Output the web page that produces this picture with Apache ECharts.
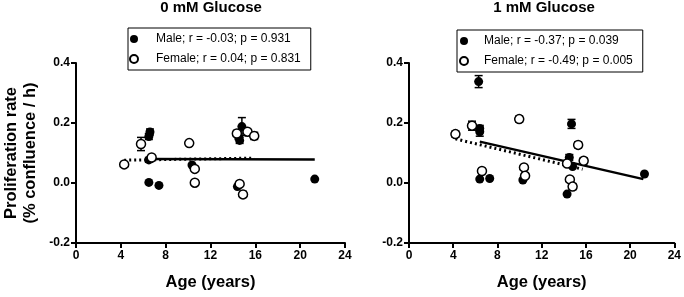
<!DOCTYPE html>
<html>
<head>
<meta charset="utf-8">
<script src="https://cdn.jsdelivr.net/npm/echarts@6/dist/echarts.min.js"></script>
<style>
  html, body { margin: 0; padding: 0; background: #fff; }
  #main { width: 684px; height: 297px; }
</style>
</head>
<body>
<div id="main"></div>
<script>
// 数据: [年龄, 增殖率, 误差]
const male0 = [
  [6.6, 0.17, 0.01], [6.5, 0.155, 0.01], [6.5, 0.077, 0.008], [6.5, 0.002, 0],
  [7.4, -0.008, 0], [10.35, 0.06, 0], [14.8, 0.188, 0.03], [14.5, 0.155, 0.01],
  [14.6, 0.142, 0.01], [14.4, -0.012, 0], [21.3, 0.013, 0]
]
const female0 = [
  [4.3, 0.062, 0], [5.8, 0.13, 0.022], [6.75, 0.085, 0], [10.1, 0.133, 0],
  [10.6, 0.047, 0], [10.6, 0.001, 0], [14.35, 0.165, 0.01], [15.3, 0.171, 0],
  [15.9, 0.157, 0.012], [14.6, -0.003, 0], [14.9, -0.038, 0.01]
]
const male1 = [
  [6.3, 0.338, 0.02], [6.4, 0.182, 0.01], [6.4, 0.171, 0.015], [6.4, 0.013, 0],
  [7.3, 0.015, 0], [10.3, 0.01, 0], [14.7, 0.197, 0.015], [14.5, 0.085, 0.01],
  [14.8, 0.055, 0], [14.3, -0.037, 0], [21.3, 0.03, 0]
]
const female1 = [
  [4.2, 0.163, 0.01], [5.7, 0.191, 0.015], [6.6, 0.04, 0], [9.97, 0.213, 0.01],
  [10.4, 0.052, 0], [10.5, 0.024, 0], [15.3, 0.127, 0.01], [15.8, 0.074, 0.01],
  [14.3, 0.065, 0], [14.55, 0.012, 0], [14.8, -0.012, 0.01]
]
// 回归线
const maleFit0 = [[6.5, 0.08], [21.3, 0.078]]
const femaleFit0 = [[4.3, 0.076], [15.9, 0.083]]
const maleFit1 = [[6.4, 0.138], [21.2, 0.013]]
const femaleFit1 = [[4.2, 0.147], [15.7, 0.046]]

const titles = ['0 mM Glucose', '1 mM Glucose']
const maleNames = ['Male; r = -0.03; p = 0.931', 'Male; r = -0.37; p = 0.039']
const femaleNames = ['Female; r = 0.04; p = 0.831', 'Female; r = -0.49; p = 0.005']
const xTicks = [0, 24, 4]     // min, max, interval
const yTicks = [-0.2, 0.4, 0.2]

const FONT = '"Liberation Sans", Arial, sans-serif'

const chart = echarts.init(document.getElementById('main'))

function xAxis(i) {
  return {
    gridIndex: i, type: 'value', min: xTicks[0], max: xTicks[1], interval: xTicks[2],
    name: 'Age (years)', nameLocation: 'middle', nameGap: 31,
    nameTextStyle: { color: '#000', fontFamily: FONT, fontWeight: 'bold', fontSize: 16.5 },
    axisLine: { onZero: false, lineStyle: { color: '#000', width: 2 } },
    axisTick: { length: 5, lineStyle: { color: '#000', width: 2 } },
    axisLabel: { color: '#000', fontFamily: FONT, fontWeight: 'bold', fontSize: 12, margin: 7 },
    splitLine: { show: false }
  }
}
function yAxis(i) {
  return {
    gridIndex: i, type: 'value', min: yTicks[0], max: yTicks[1], interval: yTicks[2],
    name: i === 0 ? 'Proliferation rate\n(% confluence / h)' : '',
    nameLocation: 'middle', nameGap: 36,
    nameTextStyle: { color: '#000', fontFamily: FONT, fontWeight: 'bold', fontSize: 16.5, lineHeight: 19 },
    axisLine: { onZero: false, lineStyle: { color: '#000', width: 2 } },
    axisTick: { length: 5, lineStyle: { color: '#000', width: 2 } },
    axisLabel: { color: '#000', fontFamily: FONT, fontWeight: 'bold', fontSize: 12, margin: 6,
      formatter: v => v.toFixed(1) },
    splitLine: { show: false }
  }
}

// 误差棒
function errorSeries(data, i) {
  return {
    type: 'custom', xAxisIndex: i, yAxisIndex: i, z: 2, silent: true,
    data: data,
    encode: { x: 0, y: 1 },
    renderItem: function (params, api) {
      const x = api.value(0), y = api.value(1), e = api.value(2)
      if (!e) return
      const top = api.coord([x, y + e])
      const bot = api.coord([x, y - e])
      const st = { stroke: '#000', lineWidth: 1.5 }
      return {
        type: 'group',
        children: [
          { type: 'line', shape: { x1: top[0], y1: top[1], x2: bot[0], y2: bot[1] }, style: st },
          { type: 'line', shape: { x1: top[0] - 4, y1: top[1], x2: top[0] + 4, y2: top[1] }, style: st },
          { type: 'line', shape: { x1: bot[0] - 4, y1: bot[1], x2: bot[0] + 4, y2: bot[1] }, style: st }
        ]
      }
    }
  }
}
function fitSeries(data, i, dotted) {
  return {
    type: 'line', xAxisIndex: i, yAxisIndex: i, z: 3, silent: true,
    data: data, symbol: 'none',
    lineStyle: dotted ? { color: '#000', width: 3, type: [2, 3] } : { color: '#000', width: 2.5 }
  }
}
function pointSeries(name, data, i, open) {
  return {
    name: name, type: 'scatter', xAxisIndex: i, yAxisIndex: i, z: 4,
    data: data, symbol: 'circle', symbolSize: 9,
    itemStyle: open
      ? { color: '#fff', borderColor: '#000', borderWidth: 1.5, opacity: 1 }
      : { color: '#000', borderColor: '#000', borderWidth: 0, opacity: 1 }
  }
}

const option = {
  animation: false,
  backgroundColor: '#fff',
  title: [
    { text: titles[0], left: 211, top: 0, padding: 0, textAlign: 'center',
      textStyle: { color: '#000', fontFamily: FONT, fontWeight: 'bold', fontSize: 15 } },
    { text: titles[1], left: 544, top: 0, padding: 0, textAlign: 'center',
      textStyle: { color: '#000', fontFamily: FONT, fontWeight: 'bold', fontSize: 15 } }
  ],
  legend: [
    { data: [maleNames[0], femaleNames[0]], orient: 'vertical', left: 128, top: 28,
      itemWidth: 8, itemHeight: 8, itemGap: 8, padding: [5, 10, 5, 1],
      borderColor: '#000', borderWidth: 1, selectedMode: false,
      textStyle: { color: '#000', fontFamily: FONT, fontSize: 12, padding: [0, 0, 0, 13] } },
    { data: [maleNames[1], femaleNames[1]], orient: 'vertical', left: 457, top: 30,
      itemWidth: 8, itemHeight: 8, itemGap: 8, padding: [5, 10, 5, 2],
      borderColor: '#000', borderWidth: 1, selectedMode: false,
      textStyle: { color: '#000', fontFamily: FONT, fontSize: 12, padding: [0, 0, 0, 11] } }
  ],
  grid: [
    { left: 76, top: 63, width: 269, height: 180 },
    { left: 409, top: 63, width: 267, height: 180 }
  ],
  xAxis: [xAxis(0), xAxis(1)],
  yAxis: [yAxis(0), yAxis(1)],
  series: [
    errorSeries(male0, 0), errorSeries(female0, 0),
    fitSeries(maleFit0, 0, false), fitSeries(femaleFit0, 0, true),
    pointSeries(maleNames[0], male0, 0, false), pointSeries(femaleNames[0], female0, 0, true),
    errorSeries(male1, 1), errorSeries(female1, 1),
    fitSeries(maleFit1, 1, false), fitSeries(femaleFit1, 1, true),
    pointSeries(maleNames[1], male1, 1, false), pointSeries(femaleNames[1], female1, 1, true)
  ]
}

chart.setOption(option)
</script>
</body>
</html>
